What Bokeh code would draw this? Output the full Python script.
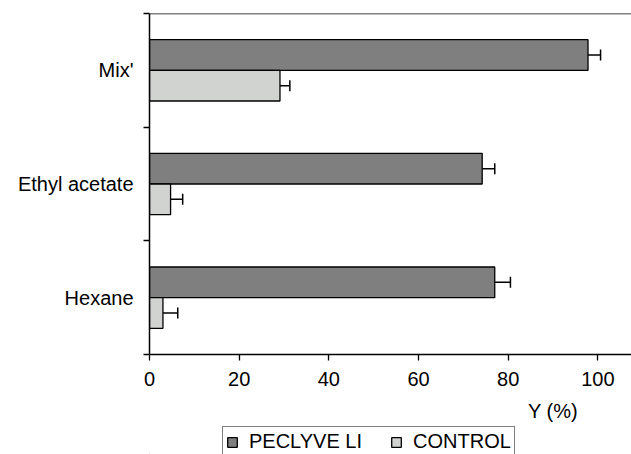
from bokeh.plotting import figure
from bokeh.models import (ColumnDataSource, FixedTicker, Span, Legend, LegendItem,
                          Whisker, TeeHead, Range1d, LinearAxis)
from bokeh.layouts import column
from bokeh.transform import dodge
from bokeh.embed import file_html
from bokeh.resources import INLINE

# Data
categories = ["Hexane", "Ethyl acetate", "Mix'"]
peclyve = [77.0, 74.2, 97.8]
peclyve_err = [3.5, 2.8, 2.8]
control = [3.0, 4.7, 29.1]
control_err = [3.3, 2.7, 2.2]
x_ticks = [0, 20, 40, 60, 80, 100]
series_labels = ["PECLYVE LI", "CONTROL"]
x_title = "Y (%)"

FONT = "Liberation Sans"
FS = "20px"
DARK = "#7f7f7f"
LIGHT = "#d1d3d1"

ypos = [i + 0.5 for i in range(len(categories))]
src = ColumnDataSource(dict(
    y=ypos,
    pec=peclyve,
    pec_hi=[v + e for v, e in zip(peclyve, peclyve_err)],
    con=control,
    con_hi=[v + e for v, e in zip(control, control_err)],
))

p = figure(width=631, height=426, output_backend="svg", toolbar_location=None,
           x_range=Range1d(0, 107.5), y_range=Range1d(0, 3),
           min_border_left=149, min_border_right=0, min_border_top=13, min_border_bottom=72)
p.outline_line_color = None
p.grid.grid_line_color = None

r1 = p.hbar(y=dodge("y", 0.135), height=0.27, left=0, right="pec", source=src,
            fill_color=DARK, line_color="black", line_width=1.3)
r2 = p.hbar(y=dodge("y", -0.135), height=0.27, left=0, right="con", source=src,
            fill_color=LIGHT, line_color="black", line_width=1.3)

for val, hi, off in (("pec", "pec_hi", 0.135), ("con", "con_hi", -0.135)):
    w = Whisker(base=dodge("y", off), lower=val, upper=hi, dimension="width", source=src,
                line_color="black", line_width=1.5, lower_head=None,
                upper_head=TeeHead(size=11, line_color="black", line_width=1.5))
    p.add_layout(w)

# top border
p.add_layout(Span(location=3, dimension="width", line_color="black", line_width=1.5))

# y axis
yax = p.yaxis[0]
yax.ticker = FixedTicker(ticks=ypos, minor_ticks=[0, 1, 2, 3])
yax.major_label_overrides = {y: c for y, c in zip(ypos, categories)}
yax.major_tick_line_color = None
yax.major_tick_out = 0
yax.major_tick_in = 0
yax.minor_tick_out = 6
yax.minor_tick_in = 0
yax.minor_tick_line_color = "black"
yax.minor_tick_line_width = 1.3
yax.axis_line_color = "black"
yax.axis_line_width = 1.5
yax.major_label_text_font = FONT
yax.major_label_text_font_size = FS
yax.major_label_text_color = "black"
yax.major_label_standoff = 10

# x axis
xax = p.xaxis[0]
xax.ticker = FixedTicker(ticks=x_ticks)
xax.major_tick_out = 6
xax.major_tick_in = 0
xax.minor_tick_line_color = None
xax.major_tick_line_color = "black"
xax.major_tick_line_width = 1.3
xax.axis_line_color = "black"
xax.axis_line_width = 1.5
xax.major_label_text_font = FONT
xax.major_label_text_font_size = FS
xax.major_label_text_color = "black"
xax.major_label_standoff = 11

# axis title placed under the right part of the axis
tax = LinearAxis(ticker=FixedTicker(ticks=[90], minor_ticks=[]),
                 major_label_overrides={90: x_title},
                 axis_line_color=None, major_tick_line_color=None, minor_tick_line_color=None,
                 major_tick_out=0, major_tick_in=0, major_label_standoff=11,
                 major_label_text_font=FONT, major_label_text_font_size=FS,
                 major_label_text_color="black")
p.add_layout(tax, "below")

# legend strip
lg = figure(width=631, height=28, output_backend="svg", toolbar_location=None,
            x_range=Range1d(0, 1), y_range=Range1d(0, 1),
            min_border_left=149, min_border_right=0, min_border_top=0, min_border_bottom=0)
lg.outline_line_color = None
lg.axis.visible = False
lg.grid.grid_line_color = None
d1 = lg.hbar(y=[-10], left=[-10], right=[-9], height=0.5,
             fill_color=DARK, line_color="black", line_width=1.3)
d2 = lg.hbar(y=[-10], left=[-10], right=[-9], height=0.5,
             fill_color=LIGHT, line_color="black", line_width=1.3)
legend = Legend(items=[LegendItem(label=series_labels[0], renderers=[d1]),
                       LegendItem(label=series_labels[1], renderers=[d2])],
                orientation="horizontal", location=(73, -3),
                border_line_color="black", border_line_width=1,
                background_fill_color="white", background_fill_alpha=1,
                padding=3, spacing=28, label_standoff=11, margin=0,
                glyph_width=12, glyph_height=12,
                label_text_font=FONT, label_text_font_size=FS, label_text_color="black")
lg.add_layout(legend, "center")

layout = column(p, lg, spacing=0)
open("out.html", "w").write(file_html(layout, INLINE))
